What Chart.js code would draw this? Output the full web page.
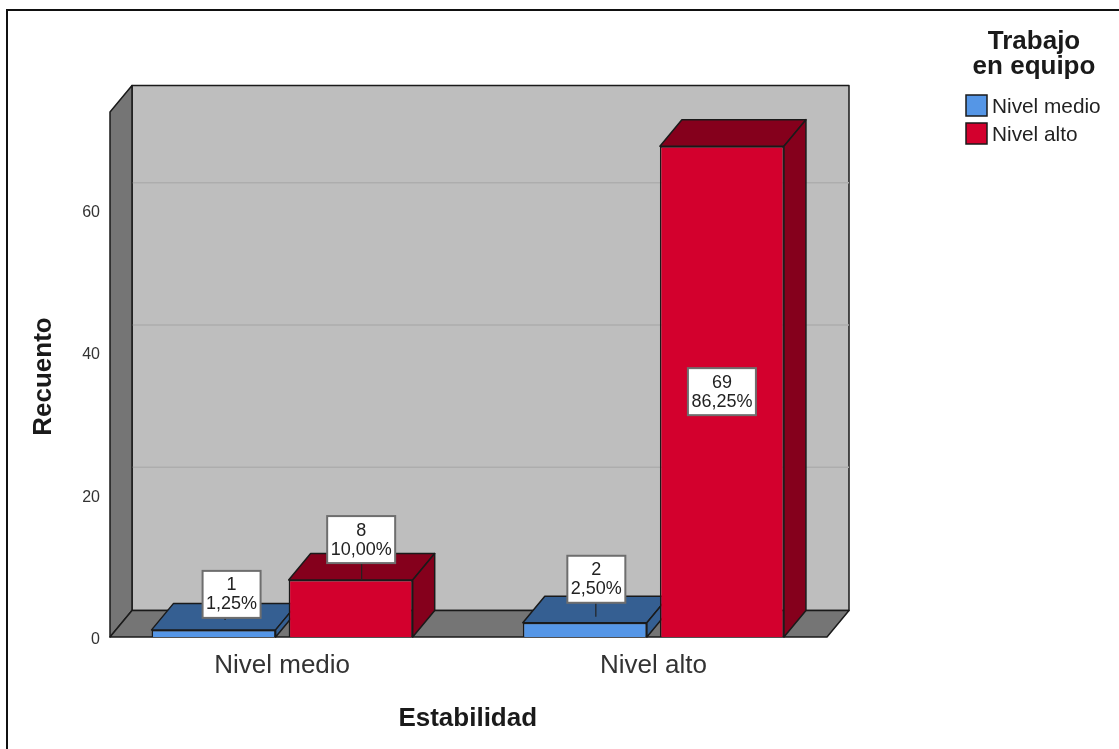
<!DOCTYPE html>
<html>
<head>
<meta charset="utf-8">
<title>Estabilidad</title>
<script src="https://cdn.jsdelivr.net/npm/chart.js@4"></script>
<style>
  html, body { margin: 0; padding: 0; background: #fff; }
  #wrap { position: relative; width: 1119px; height: 749px; overflow: hidden; }
  #frame { position: absolute; left: 6px; top: 9px; right: 0; bottom: 0; border-top: 2px solid #111; border-left: 2px solid #111; }
  #grafico { position: absolute; left: 0; top: 0; }
</style>
</head>
<body>
<div id="wrap">
  <div id="frame"></div>
  <canvas id="grafico" width="1119" height="749"></canvas>
</div>
<script>
const categorias = ['Nivel medio', 'Nivel alto'];
const nivelMedio = [1, 2];
const nivelAlto = [8, 69];
const porcentajeMedio = ['1,25%', '2,50%'];
const porcentajeAlto = ['10,00%', '86,25%'];
const ticksY = [0, 20, 40, 60];
const yMax = 73.8;

const FONT = '"Liberation Sans", Arial, sans-serif';
const DEPTH_X = 22;
const DEPTH_Y = 26.5;
// the category band runs a bit past the floor on both sides
const EXTRA_L = 13.5;
const EXTRA_R = 12;

// label box position relative to the bar front top, leader end relative too
const posEtiquetas = [
  [{ dx: 18, dy: -35.5, lx: 11.5, ly: -10 }, { dx: 11.5, dy: -43.5, lx: 11, ly: -6 }],
  [{ dx: 10.5, dy: -40.5, lx: 11, ly: 0 }, { dx: 0, dy: 245.5 }]
];

function poly(ctx, pts, fill, stroke, lw) {
  ctx.beginPath();
  pts.forEach((p, i) => i ? ctx.lineTo(p[0], p[1]) : ctx.moveTo(p[0], p[1]));
  ctx.closePath();
  ctx.fillStyle = fill;
  ctx.fill();
  if (stroke) {
    ctx.strokeStyle = stroke;
    ctx.lineWidth = lw || 1.5;
    ctx.lineJoin = 'round';
    ctx.stroke();
  }
}

// walls, floor and the depth faces of the bars
const cajaPlugin = {
  id: 'caja',
  afterLayout(chart) {
    const y = chart.scales.y;
    // tick labels sit over the band edge, the title a little under centre
    y.right = chart.chartArea.left + EXTRA_L;
    y.bottom += 4;
  },
  beforeDatasetsDraw(chart) {
    const ctx = chart.ctx;
    const area = chart.chartArea;
    const y = chart.scales.y;
    const l = area.left + EXTRA_L;
    const r = area.right - EXTRA_R;
    const t = area.top;
    const b = area.bottom;
    ctx.save();
    poly(ctx, [[l + DEPTH_X, t - DEPTH_Y], [r + DEPTH_X, t - DEPTH_Y], [r + DEPTH_X, b - DEPTH_Y], [l + DEPTH_X, b - DEPTH_Y]], '#bebebe', '#1a1a1a', 1.5);
    // grid lines only on the back wall
    ctx.strokeStyle = '#adadad';
    ctx.lineWidth = 1.5;
    ticksY.slice(1).forEach(v => {
      const py = y.getPixelForValue(v) - DEPTH_Y - 1;
      ctx.beginPath();
      ctx.moveTo(l + DEPTH_X, py);
      ctx.lineTo(r + DEPTH_X, py);
      ctx.stroke();
    });
    poly(ctx, [[l, t], [l + DEPTH_X, t - DEPTH_Y], [l + DEPTH_X, b - DEPTH_Y], [l, b]], '#757575', '#1a1a1a', 1.5);
    poly(ctx, [[l, b], [l + DEPTH_X, b - DEPTH_Y], [r + DEPTH_X, b - DEPTH_Y], [r, b]], '#757575', '#1a1a1a', 1.5);

    const oscuros = ['#355f92', '#85001c'];
    chart.data.datasets.forEach((ds, i) => {
      chart.getDatasetMeta(i).data.forEach(bar => {
        const x0 = bar.x - bar.width / 2;
        const x1 = bar.x + bar.width / 2;
        const top = bar.y;
        const base = bar.base;
        poly(ctx, [[x0, top], [x0 + DEPTH_X, top - DEPTH_Y], [x1 + DEPTH_X, top - DEPTH_Y], [x1, top]], oscuros[i], '#1a1a1a', 1.5);
        poly(ctx, [[x1, top], [x1 + DEPTH_X, top - DEPTH_Y], [x1 + DEPTH_X, base - DEPTH_Y], [x1, base]], oscuros[i], '#1a1a1a', 1.5);
      });
    });
    ctx.restore();
  },
  afterDatasetsDraw(chart) {
    const ctx = chart.ctx;
    const porcentajes = [porcentajeMedio, porcentajeAlto];
    ctx.save();
    ctx.font = '18px ' + FONT;
    ctx.textAlign = 'center';
    ctx.textBaseline = 'middle';
    chart.data.datasets.forEach((ds, i) => {
      chart.getDatasetMeta(i).data.forEach((bar, j) => {
        const pos = posEtiquetas[i][j];
        const cx = bar.x + pos.dx;
        const cy = bar.y + pos.dy;
        const texto = porcentajes[i][j];
        const w = Math.round(ctx.measureText(texto).width) + 7;
        const h = 47;
        if (pos.lx !== undefined) {
          ctx.strokeStyle = '#222';
          ctx.lineWidth = 1.2;
          ctx.beginPath();
          ctx.moveTo(bar.x + pos.lx, cy + h / 2);
          ctx.lineTo(bar.x + pos.lx, bar.y + pos.ly);
          ctx.stroke();
        }
        ctx.fillStyle = '#fff';
        ctx.strokeStyle = '#6e6e6e';
        ctx.lineWidth = 2;
        ctx.fillRect(cx - w / 2, cy - h / 2, w, h);
        ctx.strokeRect(cx - w / 2, cy - h / 2, w, h);
        ctx.fillStyle = '#222';
        ctx.fillText(String(ds.data[j]), cx, cy - 9);
        ctx.fillText(texto, cx, cy + 10);
      });
    });
    ctx.restore();

    // legend with its two line heading
    ctx.save();
    ctx.fillStyle = '#1a1a1a';
    ctx.textAlign = 'center';
    ctx.textBaseline = 'middle';
    ctx.font = 'bold 26px ' + FONT;
    ctx.fillText('Trabajo', 1034, 42);
    ctx.fillText('en equipo', 1034, 67);
    ctx.textAlign = 'left';
    ctx.font = '20.8px ' + FONT;
    chart.data.datasets.forEach((ds, i) => {
      const ly = 95 + i * 28;
      ctx.fillStyle = ds.backgroundColor;
      ctx.strokeStyle = '#1a1a1a';
      ctx.lineWidth = 1.5;
      ctx.fillRect(966, ly, 21, 21);
      ctx.strokeRect(966, ly, 21, 21);
      ctx.fillStyle = '#222';
      ctx.fillText(ds.label, 992, ly + 12);
    });
    ctx.restore();
  }
};

new Chart(document.getElementById('grafico'), {
  type: 'bar',
  data: {
    labels: categorias,
    datasets: [
      { label: 'Nivel medio', data: nivelMedio, backgroundColor: '#5596e6' },
      { label: 'Nivel alto', data: nivelAlto, backgroundColor: '#d3002d' }
    ]
  },
  options: {
    responsive: false,
    animation: false,
    layout: { padding: { top: 112, right: 280, left: 0, bottom: 0 } },
    datasets: {
      bar: {
        categoryPercentage: 0.7385,
        barPercentage: 0.905,
        borderWidth: 1.5,
        borderColor: '#1a1a1a'
      }
    },
    plugins: {
      legend: { display: false },
      tooltip: { enabled: false }
    },
    scales: {
      x: {
        grid: { display: false, drawTicks: false },
        border: { display: false },
        ticks: { color: '#333', font: { family: FONT, size: 26 }, padding: 13, maxRotation: 0 },
        title: { display: true, text: 'Estabilidad', color: '#1a1a1a', font: { family: FONT, size: 26, weight: 'bold' }, padding: { top: 0, bottom: 14.4 } },
        afterFit(scale) { scale.height = 112; }
      },
      y: {
        min: 0,
        max: yMax,
        grid: { display: false, drawTicks: false },
        border: { display: false },
        afterBuildTicks(scale) { scale.ticks = ticksY.map(v => ({ value: v })); },
        ticks: { color: '#333', font: { family: FONT, size: 16 }, padding: 10, labelOffset: 2.5 },
        title: { display: true, text: 'Recuento', color: '#1a1a1a', font: { family: FONT, size: 26, weight: 'bold' }, padding: { top: 28.4, bottom: 0 } },
        afterFit(scale) { scale.width = 96.5; }
      }
    }
  },
  plugins: [cajaPlugin]
});
</script>
</body>
</html>
